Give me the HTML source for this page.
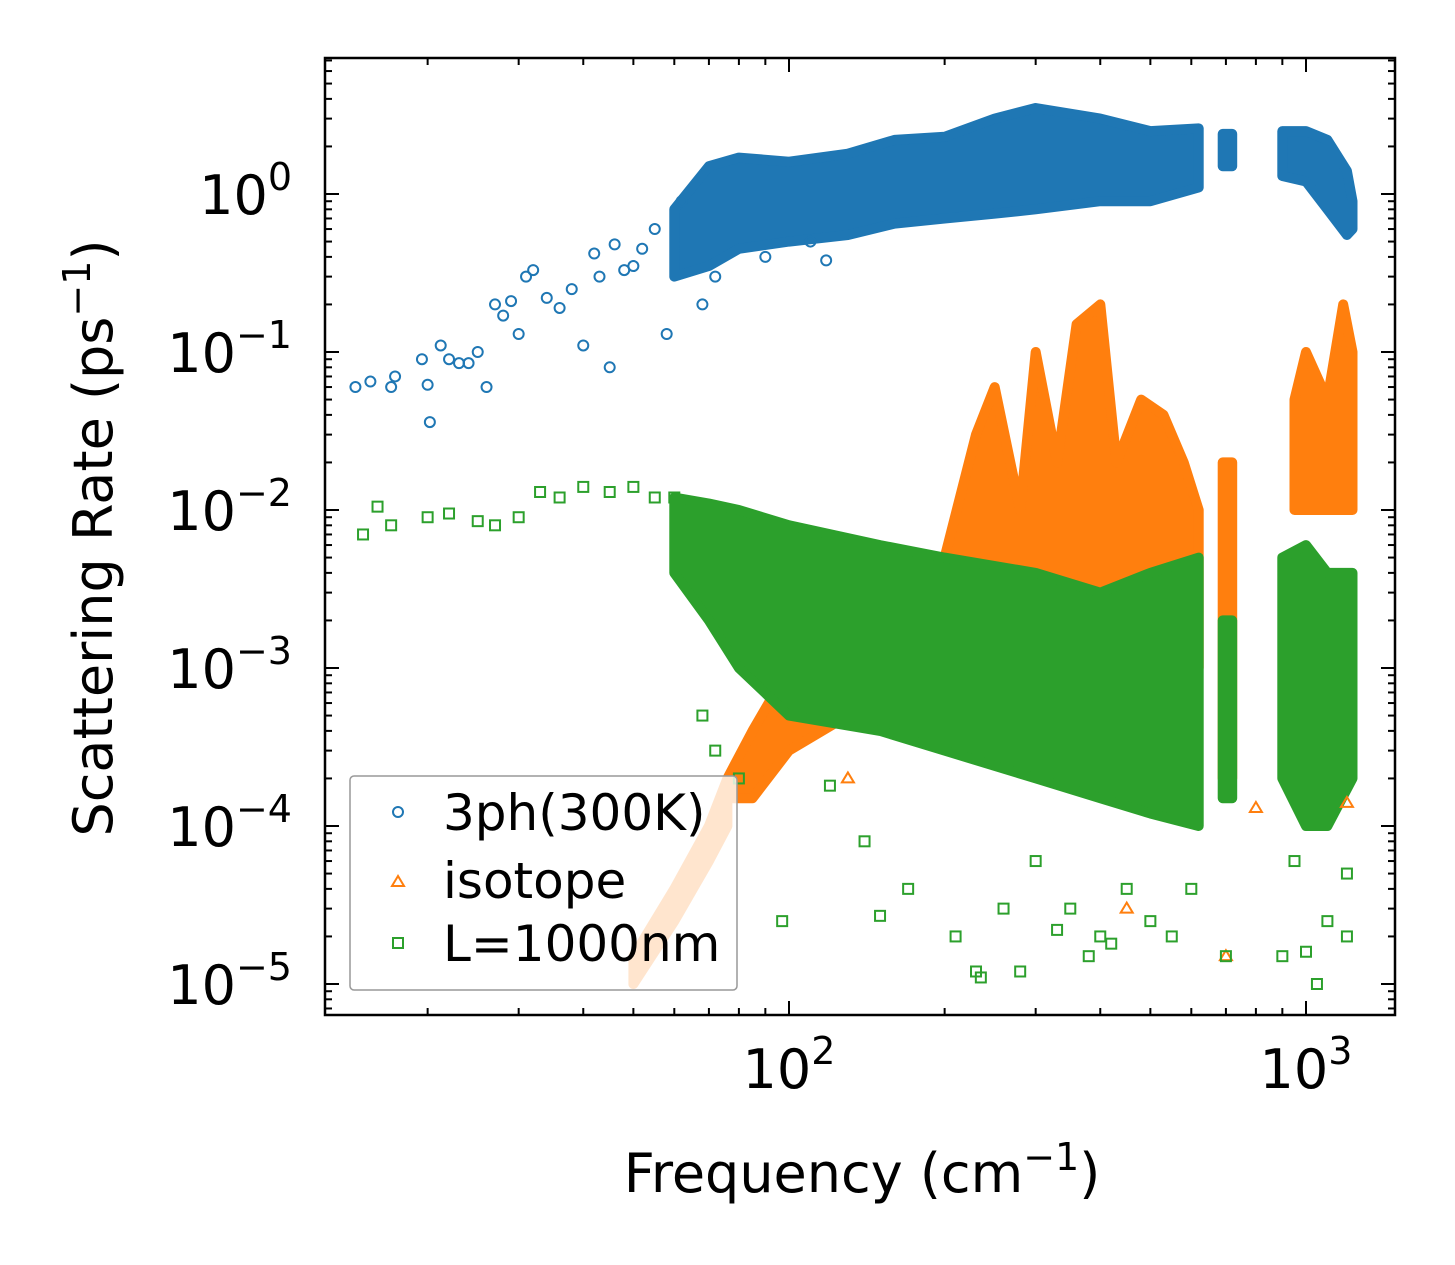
<!DOCTYPE html>
<html><head><meta charset="utf-8"><style>
body{margin:0;background:#fff}
svg{display:block;font-family:"DejaVu Sans","Liberation Sans",sans-serif}
</style></head><body>
<svg id="chart" width="1455" height="1265">
<rect x="0" y="0" width="1455" height="1265" fill="#fff"/>
<g id="bands"></g>
<g id="pts"></g>
<g id="axes"></g>
<text x="862" y="1192" text-anchor="middle" font-size="54">Frequency (cm<tspan dy="-22" font-size="38">−1</tspan><tspan dy="22">)</tspan></text>
<text transform="translate(112,538) rotate(-90)" text-anchor="middle" font-size="54">Scattering Rate (ps<tspan dy="-22" font-size="38">−1</tspan><tspan dy="22">)</tspan></text>
<g>
<rect x="350" y="776" width="387" height="214" fill="#fff" fill-opacity="0.8" stroke="#999" stroke-width="1.5" rx="4"/>
<circle cx="398" cy="812" r="5" fill="none" stroke="#1f77b4" stroke-width="2"/>
<text x="443" y="830" font-size="50">3ph(300K)</text>
<polygon points="398,876 392,886 404,886" fill="none" stroke="#ff7f0e" stroke-width="2"/>
<text x="443" y="898" font-size="50">isotope</text>
<rect x="393" y="938" width="10" height="10" fill="none" stroke="#2ca02c" stroke-width="2"/>
<text x="443" y="961" font-size="50">L=1000nm</text>
</g>
</svg>
<script>
// ---- data ----
const xTicks = [100, 1000];
const yTicks = [1, 0.1, 0.01, 0.001, 0.0001, 0.00001];
const yTickExp = ["0","−1","−2","−3","−4","−5"];
const xTickExp = ["2","3"];
// dense-region envelopes: [freq, low, high]
const blueBand = [[60,0.3,0.8],[70,0.35,1.5],[80,0.45,1.7],[100,0.5,1.6],[130,0.55,1.8],[160,0.65,2.2],[200,0.7,2.3],[250,0.75,3.0],[300,0.8,3.5],[400,0.9,3.0],[500,0.9,2.5],[620,1.1,2.6]];
const blueBand2 = [[690,1.5,2.4],[720,1.5,2.4]];
const blueBand3 = [[900,1.3,2.5],[1000,1.2,2.5],[1100,0.8,2.2],[1200,0.55,1.4],[1230,0.6,0.9]];
const isoLight = [[50,0.00001,0.000015],[60,0.000025,0.00004],[70,0.00006,0.0001],[76,0.0001,0.0002]];
const isoBand = [[76,0.00015,0.0002],[85,0.00015,0.0004],[100,0.0003,0.001],[130,0.0005,0.002],[170,0.0008,0.004],[200,0.002,0.005],[230,0.003,0.03],[250,0.003,0.06],[280,0.003,0.01],[300,0.004,0.1],[330,0.003,0.02],[360,0.003,0.15],[400,0.003,0.2],[430,0.003,0.02],[480,0.002,0.05],[530,0.002,0.04],[580,0.002,0.02],[620,0.001,0.01]];
const isoBand2 = [[690,0.0002,0.02],[720,0.0002,0.02]];
const isoBand3 = [[950,0.01,0.05],[1000,0.01,0.1],[1100,0.01,0.05],[1180,0.01,0.2],[1230,0.01,0.1]];
const greenBand = [[60,0.004,0.012],[70,0.002,0.011],[80,0.001,0.01],[100,0.0005,0.008],[150,0.0004,0.006],[200,0.0003,0.005],[300,0.0002,0.004],[400,0.00015,0.003],[500,0.00012,0.004],[620,0.0001,0.005]];
const greenBand2 = [[690,0.00015,0.002],[720,0.00015,0.002]];
const greenBand3 = [[900,0.0002,0.005],[1000,0.0001,0.006],[1100,0.0001,0.004],[1230,0.0002,0.004]];
const bluePts = [[14.5,0.06],[15.5,0.065],[17,0.06],[17.3,0.07],[19.5,0.09],[20,0.062],[20.2,0.036],[21.2,0.11],[22,0.09],[23,0.085],[24,0.085],[25,0.1],[26,0.06],[27,0.2],[28,0.17],[29,0.21],[30,0.13],[31,0.3],[32,0.33],[34,0.22],[36,0.19],[38,0.25],[40,0.11],[42,0.42],[43,0.3],[45,0.08],[46,0.48],[48,0.33],[50,0.35],[52,0.45],[55,0.6],[58,0.13],[62,0.9],[68,0.2],[72,0.3],[90,0.4],[110,0.5],[118,0.38]];
const greenPts = [[15,0.007],[16,0.0105],[17,0.008],[20,0.009],[22,0.0095],[25,0.0085],[27,0.008],[30,0.009],[33,0.013],[36,0.012],[40,0.014],[45,0.013],[50,0.014],[55,0.012],[60,0.012],[68,0.0005],[72,0.0003],[80,0.0002],[97,0.000025],[120,0.00018],[140,0.00008],[150,0.000027],[170,0.00004],[210,0.00002],[230,0.000012],[235,0.000011],[260,0.00003],[280,0.000012],[300,0.00006],[330,0.000022],[350,0.00003],[380,0.000015],[400,0.00002],[420,0.000018],[450,0.00004],[500,0.000025],[550,0.00002],[600,0.00004],[700,0.000015],[900,0.000015],[950,0.00006],[1000,0.000016],[1050,0.00001],[1100,0.000025],[1200,0.00002],[1200,0.00005]];
const isoPts = [[450,0.00003],[700,0.000015],[1200,0.00014],[130,0.0002],[800,0.00013]];
// ---- axes ----
const X0=325,X1=1395,Y0=58,Y1=1015;
const xs=f=>789+(Math.log10(f)-2)*517;
const ys=v=>194-Math.log10(v)*158;
const NS="http://www.w3.org/2000/svg";
function mk(tag,parent){const e=document.createElementNS(NS,tag);parent.appendChild(e);return e;}
const bands=document.getElementById('bands'),pts=document.getElementById('pts'),axes=document.getElementById('axes');
function band(arr,color,name){
  const top=arr.map(d=>xs(d[0]).toFixed(1)+','+ys(d[2]).toFixed(1));
  const bot=arr.slice().reverse().map(d=>xs(d[0]).toFixed(1)+','+ys(d[1]).toFixed(1));
  const p=mk('polygon',bands);
  p.setAttribute('points',top.concat(bot).join(' '));
  p.setAttribute('fill',color);p.setAttribute('stroke',color);p.setAttribute('stroke-width','10');p.setAttribute('stroke-linejoin','round');
  
  
}
band(blueBand,'#1f77b4','blue-band');band(blueBand2,'#1f77b4','blue-band-700');band(blueBand3,'#1f77b4','blue-band-1000');
band(isoLight,'#ff7f0e','isotope-low-band');
band(isoBand,'#ff7f0e','isotope-band');band(isoBand2,'#ff7f0e','isotope-band-700');band(isoBand3,'#ff7f0e','isotope-band-1000');
band(greenBand,'#2ca02c','green-band');band(greenBand2,'#2ca02c','green-band-700');band(greenBand3,'#2ca02c','green-band-1000');
bluePts.forEach(d=>{const c=mk('circle',pts);c.setAttribute('cx',xs(d[0]));c.setAttribute('cy',ys(d[1]));c.setAttribute('r',5);c.setAttribute('fill','none');c.setAttribute('stroke','#1f77b4');c.setAttribute('stroke-width',2);

});
isoPts.forEach(d=>{const x=xs(d[0]),y=ys(d[1]);const c=mk('polygon',pts);c.setAttribute('points',`${x},${y-6} ${x-6},${y+4} ${x+6},${y+4}`);c.setAttribute('fill','none');c.setAttribute('stroke','#ff7f0e');c.setAttribute('stroke-width',2);

});
greenPts.forEach(d=>{const c=mk('rect',pts);c.setAttribute('x',xs(d[0])-5);c.setAttribute('y',ys(d[1])-5);c.setAttribute('width',10);c.setAttribute('height',10);c.setAttribute('fill','none');c.setAttribute('stroke','#2ca02c');c.setAttribute('stroke-width',2);

});
function line(x1,y1,x2,y2,w){const l=mk('line',axes);l.setAttribute('x1',x1);l.setAttribute('y1',y1);l.setAttribute('x2',x2);l.setAttribute('y2',y2);l.setAttribute('stroke','#000');l.setAttribute('stroke-width',w);return l;}
const fr=mk('rect',axes);fr.setAttribute('x',X0);fr.setAttribute('y',Y0);fr.setAttribute('width',X1-X0);fr.setAttribute('height',Y1-Y0);fr.setAttribute('fill','none');fr.setAttribute('stroke','#000');fr.setAttribute('stroke-width',2.5);


for(let dec=1;dec<=3;dec++)for(let m=1;m<10;m++){const f=m*Math.pow(10,dec);const x=xs(f);if(x<X0||x>X1)continue;const L=m===1?14:7;line(x,Y1,x,Y1-L,2);line(x,Y0,x,Y0+L,2);}
xTicks.forEach((f,i)=>{const t=mk('text',axes);t.setAttribute('x',xs(f));t.setAttribute('y',1088);t.setAttribute('text-anchor','middle');t.setAttribute('font-size','54');t.innerHTML='10<tspan dy="-24" font-size="38">'+xTickExp[i]+'</tspan>';

});
for(let e=-6;e<=0;e++)for(let m=1;m<10;m++){const v=m*Math.pow(10,e);const y=ys(v);if(y<Y0||y>Y1)continue;const L=m===1?14:7;line(X0,y,X0+L,y,2);line(X1,y,X1-L,y,2);}
yTicks.forEach((v,i)=>{const t=mk('text',axes);t.setAttribute('x',292);t.setAttribute('y',ys(v)+20);t.setAttribute('text-anchor','end');t.setAttribute('font-size','54');
t.innerHTML='10<tspan dy="-24" font-size="38">'+yTickExp[i]+'</tspan>';

});
</script>
</body></html>
